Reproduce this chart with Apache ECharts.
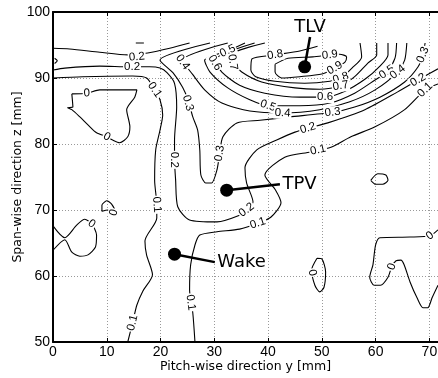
<!DOCTYPE html>
<html><head><meta charset="utf-8">
<script src="https://cdn.jsdelivr.net/npm/echarts/dist/echarts.min.js"></script>
<style>html,body{margin:0;padding:0;background:#fff}#c{width:438px;height:378px}</style>
</head><body><div id="c"></div><script>
// ---- contour lines: [pitch-wise y (mm), span-wise z (mm)] ----
const c01a = [[0,90.0],[5.5,90.2],[14.8,90.3],[17.4,90.0],[18.9,88.2],[19.9,86.7],[20.4,84.4],[19.9,82.1],[19.1,79.1],[18.9,74.5],[19.3,70.8],[19.3,68.8],[17.1,65.3],[17.4,63.2],[18.5,60.2],[16.7,57.7],[15.6,55.6],[14.8,52.9],[13.9,50.0]];
const c01b = [[26.4,50.0],[26.0,54.4],[25.4,57.9],[25.6,61.7],[26.4,64.7],[27.3,66.2],[30.5,66.7],[34.7,67.1],[38.1,68.0],[40.5,68.9],[42.4,71.1],[41.4,73.0],[39.4,75.3],[43.1,78.0],[47.9,78.8],[51.7,79.5],[55.4,81.1],[59.9,82.6],[65.4,85.2],[69.2,88.2],[71.6,89.1]];
const c02a = [[0,94.5],[3.1,94.4],[8.7,93.9],[13.9,93.5],[17.6,93.8],[21.7,94.5],[25.4,95.3]];
const c02b = [[0,91.2],[2.2,91.5],[8.7,91.8],[14.3,91.7],[18.0,91.7],[19.9,91.5],[21.2,90.8],[22.6,89.2],[23.0,85.6],[22.6,80.6],[22.6,77.6],[22.8,74.6],[23.2,70.5],[25.4,68.5],[30.5,68.2],[34.7,69.2],[36.0,70.0],[37.2,71.2],[36.0,74.1],[35.7,76.4],[37.9,79.1],[41.6,80.6],[45.0,81.8],[47.4,82.4],[51.1,83.2],[58.0,85.2],[64.1,87.9],[67.9,89.7],[71.6,91.4]];
const c03 = [[29.2,95.3],[19.9,92.7],[22.3,90.8],[24.1,88.6],[25.1,86.7],[26.0,84.1],[26.9,82.1],[27.3,79.1],[27.5,75.3],[28.4,74.1],[29.5,74.1],[30.5,76.1],[31.0,78.6],[31.6,81.1],[34.2,83.2],[38.5,83.6],[44.0,84.1],[52.0,84.8],[56.1,85.6],[60.8,87.1],[65.4,89.4],[67.9,91.7],[68.8,93.5],[69.2,95.3]];
const c04 = [[32.5,95.3],[24.1,92.7],[26.0,90.5],[28.2,88.2],[31.4,86.2],[36.6,85.0],[42.7,84.7],[49.6,85.2],[55.2,86.4],[59.9,88.2],[64.1,90.9],[65.4,92.7],[65.8,95.3]];
const c05 = [[35.7,95.3],[32.5,94.1],[28.2,92.7],[29.2,90.9],[32.5,88.5],[36.6,86.7],[40.0,85.8],[45.9,85.8],[51.5,86.2],[56.1,87.7],[59.9,89.7],[62.1,90.9],[63.6,93.0],[63.9,95.3]];
const c06 = [[37.5,95.3],[30.1,92.7],[31.4,90.9],[34.7,88.9],[39.4,87.7],[45.9,87.1],[50.6,87.1],[54.3,88.0],[58.0,89.8],[60.8,91.8],[62.3,93.5],[62.3,95.3]];
const c07 = [[39.4,95.3],[33.2,93.5],[33.4,92.4],[35.1,90.9],[38.8,89.4],[45.0,88.5],[49.6,88.3],[53.5,88.8],[56.1,90.2],[58.6,92.3],[60.2,93.5],[60.2,95.3]];
const c08 = [[49.2,94.8],[45.9,94.1],[41.3,93.5],[37.0,92.9],[36.8,91.2],[37.7,90.2],[41.3,89.5],[46.8,89.2],[51.5,89.5],[53.5,90.0],[55.6,91.5],[57.4,93.2],[57.1,95.3]];
const c09 = [[41.3,92.1],[43.7,93.0],[48.3,93.2],[51.5,93.5],[53.3,93.6],[54.6,93.2],[54.3,92.4],[52.4,91.5],[50.0,90.6],[45.9,90.2],[42.5,90.0],[41.3,90.9],[41.3,92.1]];
const z0a = [[3.5,87.6],[6.3,87.7],[8.7,88.2],[15.6,88.2],[15.2,87.1],[13.7,85.2],[14.3,82.6],[13.9,81.1],[12.4,80.2],[11.1,80.6],[10.0,81.1],[8.1,81.7],[6.5,82.9],[5.0,84.1],[3.5,85.2],[2.7,85.5],[3.7,85.6],[3.5,87.6]];
const z0b = [[9.1,70.8],[10.0,71.4],[10.9,70.9],[11.5,69.8],[11.3,69.2],[10.2,70.0],[9.1,69.8],[9.1,70.8]];
const z0c = [[0,67.6],[2.2,65.8],[4.4,67.7],[5.9,68.6],[7.2,67.9],[8.1,66.2],[7.9,64.4],[6.5,63.2],[5.0,63.0],[3.5,63.6],[2.2,65.5],[0,63.9]];
const z0d = [[49.1,62.7],[50.0,62.6],[50.7,60.6],[50.4,58.3],[49.6,57.6],[48.7,58.6],[48.1,60.9],[49.1,62.7]];
const z0e = [[71.6,67.0],[70.1,66.1],[66.4,65.9],[60.8,65.8],[60.0,64.7],[59.5,61.7],[58.9,59.8],[59.7,58.6],[60.9,58.6],[62.3,59.8],[63.0,61.4],[63.8,62.3],[64.7,62.4],[65.3,61.7],[66.4,59.1],[67.7,56.7],[68.8,55.2],[69.7,55.2],[70.5,56.7],[71.6,58.6]];
const z0f = [[59.1,74.5],[60.4,75.5],[61.9,75.3],[62.3,74.5],[61.3,73.9],[60.0,73.9],[59.1,74.5]];
const bitA = [[15.4,95.3],[16.9,95.3]];
const bitB = [[0.3,93.0],[0.8,92.6],[0.3,92.2]];

const contourSets = [
  ['0.1', c01a], ['0.1', c01b], ['0.2', c02a], ['0.2', c02b], ['0.3', c03], ['0.4', c04],
  ['0.5', c05], ['0.6', c06], ['0.7', c07], ['0.8', c08], ['0.9', c09],
  ['0', z0a], ['0', z0b], ['0', z0c], ['0', z0d], ['0', z0e], ['0', z0f], ['x', bitA], ['x', bitB]
];

// ---- contour labels ----
const labelText = ['0.2','0.2','0.1','0.3','0.4','0.6','0.5','0.7','0.8','0.9','0.9','0.8','0.7','0.6','0.5','0.4','0.3','0.2','0.1','0.5','0.4','0.2','0.1','0.3','0.3','0.2','0.1','0.1','0.2','0.1','0.1','0','0','0','0','0','0','0'];
const labelY = [15.6,14.7,18.9,25.1,24.1,30.1,32.5,33.4,41.3,51.5,52.4,53.5,53.5,50.6,40.0,42.7,52.0,47.4,49.3,62.1,64.1,67.9,69.2,68.8,31.0,22.6,19.3,14.8,36.0,38.1,25.6,6.3,10.0,11.3,7.2,48.2,63.0,70.1];
const labelZ = [93.2,91.7,88.2,86.2,92.4,92.3,94.1,92.4,93.5,93.5,91.5,90.0,88.8,87.1,85.8,84.7,84.8,82.4,79.1,90.9,90.9,89.7,88.2,93.5,78.6,77.6,70.8,52.9,70.0,68.0,56.0,87.7,81.1,69.6,67.9,60.5,61.4,66.1];

// ---- vortex annotations ----
const vortexNames = ['TLV', 'TPV', 'Wake'];
const vortexY = [46.8, 32.3, 22.6];
const vortexZ = [91.7, 73.0, 63.3];
const pointerEndY = [47.8, 42.2, 30.1];
const pointerEndZ = [96.2, 73.9, 62.1];

const xTicks = [0,10,20,30,40,50,60,70];

const chart = echarts.init(document.getElementById('c'), null, {renderer:'canvas'});

const series = contourSets.map(([lvl, pts]) => ({
  type:'line', data: pts, symbol:'none', smooth:0.25, silent:true, z:3,
  lineStyle:{color:'#000', width:1.1}
}));

vortexNames.forEach((n,i) => {
  series.push({type:'line', data:[[vortexY[i],vortexZ[i]],[pointerEndY[i],pointerEndZ[i]]], symbol:'none', silent:true, z:5,
    lineStyle:{color:'#000', width:2.5}});
});
series.push({type:'scatter', data: vortexY.map((y,i)=>[y,vortexZ[i]]), symbol:'circle', symbolSize:13, z:6,
  itemStyle:{color:'#000', opacity:1}, silent:true});
series.push({type:'scatter', z:6, silent:true, symbolSize:1, itemStyle:{color:'rgba(0,0,0,0)', opacity:1},
  data: vortexNames.map((n,i)=>({value:[pointerEndY[i],pointerEndZ[i]], name:n,
    label:{show:true, formatter:n, position: i===0?'top':'right', distance: i===0?0:2,
      fontFamily:'DejaVu Sans', fontSize:18, color:'#000'}}))});

const axisCommon = {
  type:'value', min:0, max:71.6, interval:10
};
const option = {
  animation:false,
  backgroundColor:'#fff',
  grid:{left:53, top:12, right:0, bottom:36, containLabel:false, outerBoundsMode:'none'},
  xAxis:[{
    ...axisCommon, position:'bottom',
    name:'Pitch-wise direction y [mm]', nameLocation:'middle', nameGap:18, nameMoveOverlap:false,
    nameTextStyle:{fontFamily:'DejaVu Sans', fontSize:12.5, color:'#000'},
    axisLine:{show:true, lineStyle:{color:'#000', width:2}},
    axisTick:{show:true, inside:true, length:4, lineStyle:{color:'#000'}},
    axisLabel:{margin:3, fontFamily:'Liberation Sans', fontSize:14, color:'#000',
      formatter:v => xTicks.includes(v) ? String(v) : ''},
    splitLine:{show:true, lineStyle:{color:'#999', width:1, type:[1,2]}}
  },{
    ...axisCommon, position:'top',
    axisLine:{show:true, lineStyle:{color:'#000', width:2}},
    axisTick:{show:true, inside:true, length:4, lineStyle:{color:'#000'}},
    axisLabel:{show:false}, splitLine:{show:false}
  }],
  yAxis:{
    type:'value', min:50, max:100, interval:10,
    name:'Span-wise direction z [mm]', nameLocation:'middle', nameGap:29, nameRotate:90, nameMoveOverlap:false,
    nameTextStyle:{fontFamily:'DejaVu Sans', fontSize:12.5, color:'#000'},
    axisLine:{show:true, lineStyle:{color:'#000', width:2}},
    axisTick:{show:true, inside:true, length:4, lineStyle:{color:'#000'}},
    axisLabel:{margin:3, fontFamily:'Liberation Sans', fontSize:14, color:'#000'},
    splitLine:{show:true, lineStyle:{color:'#999', width:1, type:[1,2]}}
  },
  series: series
};
chart.setOption(option);

// compute label rotation from the local direction of the matching contour
function segDist(p, a, b){
  const dx=b[0]-a[0], dy=b[1]-a[1];
  const L=dx*dx+dy*dy; let t = L? ((p[0]-a[0])*dx+(p[1]-a[1])*dy)/L : 0;
  t=Math.max(0,Math.min(1,t));
  const qx=a[0]+t*dx, qy=a[1]+t*dy;
  return Math.hypot(p[0]-qx,p[1]-qy);
}
const labelData = labelText.map((txt,i) => {
  const p = chart.convertToPixel({gridIndex:0},[labelY[i],labelZ[i]]);
  let best=1e9, ang=0;
  contourSets.forEach(([lvl,pts]) => {
    if (lvl !== txt) return;
    const px = pts.map(q => chart.convertToPixel({gridIndex:0}, q));
    for (let k=0;k<px.length-1;k++){
      const d = segDist(p, px[k], px[k+1]);
      if (d<best){best=d; ang=Math.atan2(-(px[k+1][1]-px[k][1]), px[k+1][0]-px[k][0])*180/Math.PI;}
    }
  });
  if (ang>90) ang-=180; if (ang<-90) ang+=180;
  return {value:[labelY[i],labelZ[i]], rot:ang, txt:txt};
});
option.series.push({
  type:'scatter', z:4, silent:true, symbolSize:1, itemStyle:{color:'rgba(0,0,0,0)', opacity:1},
  data: labelData.map(d=>({value:d.value, label:{show:true, rotate:d.rot, formatter:d.txt}})),
  label:{show:true, position:'inside', fontFamily:'Liberation Sans', fontSize:11.5, color:'#000',
    backgroundColor:'#fff', padding:[0,1]},
  labelLayout:{hideOverlap:false}
});
chart.setOption(option);
</script></body></html>
